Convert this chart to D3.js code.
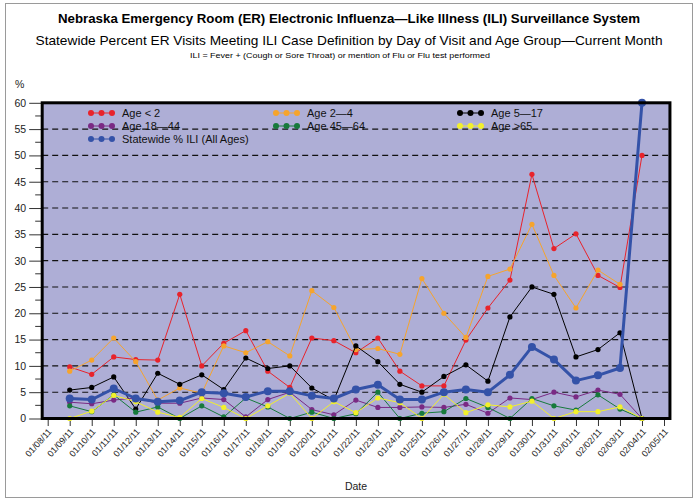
<!DOCTYPE html>
<html><head><meta charset="utf-8">
<script src="https://cdn.jsdelivr.net/npm/d3@7/dist/d3.min.js"></script>
<style>
body{margin:0;background:#fff;}
svg{display:block;font-family:"Liberation Sans",Arial,Helvetica,sans-serif;}
</style></head>
<body>
<svg id="chart" width="698" height="498"></svg>
<script>
// ---- data ----
const dateLabels = ["01/08/11","01/09/11","01/10/11","01/11/11","01/12/11","01/13/11","01/14/11","01/15/11","01/16/11","01/17/11","01/18/11","01/19/11","01/20/11","01/21/11","01/22/11","01/23/11","01/24/11","01/25/11","01/26/11","01/27/11","01/28/11","01/29/11","01/30/11","01/31/11","02/01/11","02/02/11","02/03/11","02/04/11","02/05/11"];
// values for 01/09/11 .. 02/04/11
const ageUnder2 = [9.8,8.4,11.7,11.2,11.1,23.6,10.0,14.3,16.7,9.0,5.9,15.3,14.8,12.5,15.3,9.0,6.2,6.2,14.9,21.0,26.3,46.4,32.3,35.1,27.2,24.9,50.0];
const age2to4   = [9.0,11.1,15.3,10.8,3.5,5.8,4.8,13.8,12.5,14.6,11.9,24.3,21.1,13.1,13.3,12.2,26.6,20.0,15.4,27.0,28.4,36.9,27.2,21.0,28.2,25.5,null];
const age5to17  = [5.4,5.9,7.9,1.8,8.6,6.5,8.3,5.5,11.5,9.5,10.0,5.8,3.5,13.8,10.8,6.5,5.0,8.0,10.2,7.1,19.3,25.0,23.6,11.7,13.1,16.3,0];
const age18to44 = [3.1,2.8,3.5,3.9,2.9,2.9,3.9,3.6,0.3,3.6,5.0,1.7,0.7,3.5,2.1,2.1,2.2,2.1,2.7,1.0,3.9,3.6,5.0,4.1,5.4,4.6,0];
const age45to64 = [2.4,1.3,4.5,1.2,2.2,0,2.4,0.3,3.9,2.2,0,1.2,0,0.9,5.0,0,1.0,1.3,3.8,2.1,0,3.8,2.4,1.6,4.5,1.8,0];
const age65plus = [0,1.4,4.4,3.2,1.2,0.2,3.8,2.1,0,2.4,4.8,0,3.2,1.1,3.9,3.0,0,4.6,1.1,2.6,2.2,3.3,0,1.3,1.3,2.2,0];
const statewide = [3.8,3.6,5.7,3.8,3.2,3.4,5.0,4.8,4.1,5.2,5.2,4.3,3.8,5.5,6.4,3.6,3.6,5.0,5.5,5.0,8.3,13.6,11.2,7.2,8.2,9.6,60];
const yTicks = [0,5,10,15,20,25,30,35,40,45,50,55,60];

const series = [
  {name:"Age < 2", values:ageUnder2, color:"#e8232b", w:1, r:2.6},
  {name:"Age 2\u20144", values:age2to4, color:"#f6a42c", w:1, r:2.6},
  {name:"Age 5\u201417", values:age5to17, color:"#000000", w:1, r:2.6},
  {name:"Age 18\u201444", values:age18to44, color:"#7a2a84", w:1, r:2.6},
  {name:"Age 45\u201464", values:age45to64, color:"#177a3c", w:1, r:2.6},
  {name:"Age >65", values:age65plus, color:"#f2f02c", w:1, r:2.6},
  {name:"Statewide % ILI (All Ages)", values:statewide, color:"#3452a8", w:3, r:4}
];

const svg = d3.select("#chart");
// outer light frame
svg.append("rect").attr("x",5.5).attr("y",3.5).attr("width",687).attr("height",494)
  .attr("fill","none").attr("stroke","#9a9a9a").attr("stroke-width",1);

// titles
svg.append("text").attr("x",349).attr("y",23).attr("text-anchor","middle")
  .attr("font-size",12.5).attr("font-weight","bold").attr("textLength",582).attr("lengthAdjust","spacingAndGlyphs")
  .text("Nebraska Emergency Room (ER) Electronic Influenza\u2014Like Illness (ILI) Surveillance System");
svg.append("text").attr("x",349).attr("y",45).attr("text-anchor","middle")
  .attr("font-size",13.5).attr("textLength",627).attr("lengthAdjust","spacingAndGlyphs")
  .text("Statewide Percent ER Visits Meeting ILI Case Definition by Day of Visit and Age Group\u2014Current Month");
svg.append("text").attr("x",340).attr("y",58).attr("text-anchor","middle")
  .attr("font-size",7).attr("textLength",300).attr("lengthAdjust","spacingAndGlyphs")
  .text("ILI = Fever + (Cough or Sore Throat) or mention of Flu or Flu test performed");

// scales
const x = d3.scaleLinear().domain([0,28]).range([47.7,664]);
const y = d3.scaleLinear().domain([0,60]).range([418.5,102.8]);
const left = x(-0.25), right = x(28.27);

// plot background
svg.append("rect").attr("x",left).attr("y",y(60)).attr("width",right-left).attr("height",y(0)-y(60))
  .attr("fill","#aeaed6");

// grid lines
svg.append("g").selectAll("line").data(yTicks.filter(v=>v>0&&v<60)).join("line")
  .attr("x1",left).attr("x2",right).attr("y1",d=>y(d)).attr("y2",d=>y(d))
  .attr("stroke","#111").attr("stroke-width",1.1).attr("stroke-dasharray","6,4");

// y axis
const yAxis = d3.axisLeft(y).tickValues(yTicks).tickSize(13).tickPadding(3).tickFormat(d3.format("d"));
const gy = svg.append("g").attr("transform",`translate(${left},0)`).call(yAxis);
gy.select(".domain").remove();
gy.selectAll(".tick line").attr("stroke","#333");
gy.selectAll("text").attr("font-size",10.5).attr("fill","#222");
const minor = d3.range(2.5,60,5);
svg.append("g").selectAll("line").data(minor).join("line")
  .attr("x1",left-7).attr("x2",left).attr("y1",d=>y(d)).attr("y2",d=>y(d)).attr("stroke","#333");
svg.append("text").attr("x",15).attr("y",88).attr("font-size",10.5).attr("fill","#222").text("%");

// x axis
const xAxis = d3.axisBottom(x).tickValues(d3.range(0,29)).tickSize(6).tickFormat(i=>dateLabels[i]);
const gx = svg.append("g").attr("transform",`translate(0,${y(0)+1.5})`).call(xAxis);
gx.select(".domain").remove();
gx.selectAll(".tick line").attr("stroke","#333");
gx.selectAll(".tick text").attr("font-size",9).attr("fill","#222")
  .attr("text-anchor","end").attr("dy",0).attr("y",0)
  .attr("transform","translate(4,12) rotate(-48)");
svg.append("text").attr("x",356).attr("y",490).attr("text-anchor","middle").attr("font-size",10.5).attr("fill","#222").text("Date");

// lines
const plot = svg.append("g");
series.forEach(s=>{
  const pts = s.values.map((v,i)=>({i:i+1,v}));
  const line = d3.line().defined(d=>d.v!==null).x(d=>x(d.i)).y(d=>y(d.v));
  plot.append("path").datum(pts).attr("d",line).attr("fill","none")
    .attr("stroke",s.color).attr("stroke-width",s.w).attr("stroke-linejoin","round");
  plot.append("g").selectAll("circle").data(pts.filter(d=>d.v!==null)).join("circle")
    .attr("cx",d=>x(d.i)).attr("cy",d=>y(d.v)).attr("r",s.r).attr("fill",s.color);
});

// frame
svg.append("rect").attr("x",left).attr("y",y(60)).attr("width",right-left).attr("height",y(0)-y(60))
  .attr("fill","none").attr("stroke","#000").attr("stroke-width",3);

// legend
const legPos = [
  {x:91,y:113},{x:276,y:113},{x:460,y:113},
  {x:91,y:126},{x:276,y:126},{x:460,y:126},
  {x:91,y:139}
];
const order = [0,1,2,3,4,5,6];
const leg = svg.append("g");
order.forEach((si,k)=>{
  const s = series[si], p = legPos[k];
  const g = leg.append("g").attr("transform",`translate(${p.x},${p.y})`);
  g.append("line").attr("x1",0).attr("x2",21).attr("y1",0).attr("y2",0).attr("stroke",s.color).attr("stroke-width",1);
  [0,10.5,21].forEach(cx=>g.append("circle").attr("cx",cx).attr("cy",0).attr("r",3).attr("fill",s.color));
  g.append("text").attr("x",31).attr("y",4).attr("font-size",11).attr("fill","#111").text(s.name);
});
</script>
</body></html>
